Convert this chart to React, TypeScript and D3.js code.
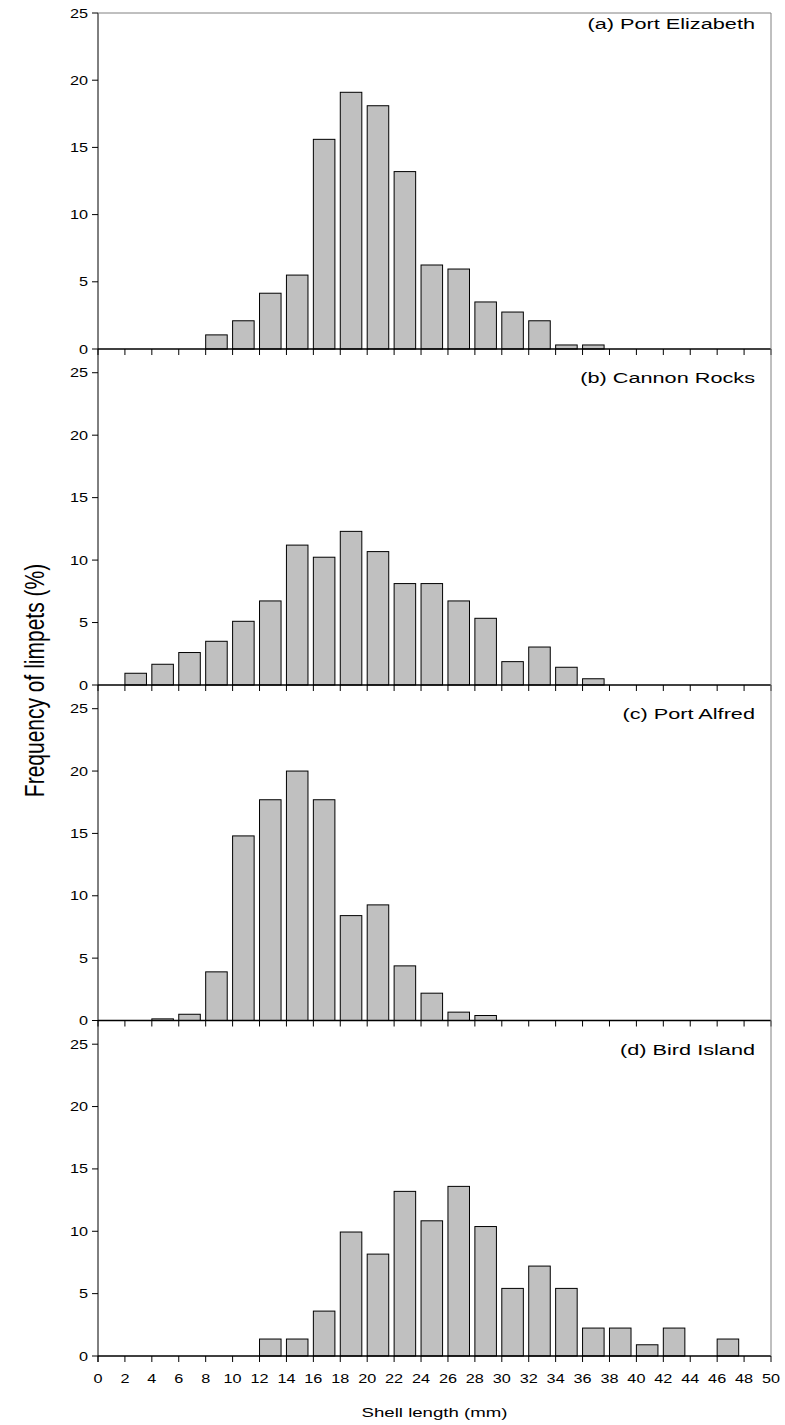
import React from "react";
import * as d3 from "d3";

// Bin starts (mm), 2 mm classes
const binStarts = d3.range(0, 50, 2);
const xTickValues = d3.range(0, 51, 2);
const yTickValues = [0, 5, 10, 15, 20, 25];

const panelTitles = ["(a) Port Elizabeth", "(b) Cannon Rocks", "(c) Port Alfred", "(d) Bird Island"];

const portElizabeth = [0, 0, 0, 0, 1.05, 2.1, 4.15, 5.5, 15.6, 19.1, 18.1, 13.2, 6.25, 5.95, 3.5, 2.75, 2.1, 0.3, 0.3, 0, 0, 0, 0, 0, 0];
const cannonRocks = [0, 0.94, 1.66, 2.6, 3.5, 5.1, 6.73, 11.2, 10.23, 12.3, 10.68, 8.12, 8.12, 6.73, 5.34, 1.87, 3.04, 1.42, 0.5, 0, 0, 0, 0, 0, 0];
const portAlfred = [0, 0, 0.13, 0.5, 3.9, 14.8, 17.7, 20.0, 17.7, 8.41, 9.27, 4.38, 2.19, 0.67, 0.4, 0, 0, 0, 0, 0, 0, 0, 0, 0, 0];
const birdIsland = [0, 0, 0, 0, 0, 0, 1.36, 1.36, 3.6, 9.94, 8.17, 13.2, 10.84, 13.6, 10.38, 5.42, 7.21, 5.42, 2.24, 2.24, 0.9, 2.24, 0, 1.36, 0];

const seriesList = [portElizabeth, cannonRocks, portAlfred, birdIsland];
const yMaxes = [25, 26.9, 26.9, 26.9];

const W = 785;
const H = 1425;
const left = 98;
const right = 771;
const panelEdges = [13, 349, 685, 1020.5, 1356];

const FONT = "'Liberation Sans', Arial, Helvetica, sans-serif";

function SText({ x, y, size, sx, anchor, children }: any) {
  return (
    <text
      transform={`translate(${x},${y}) scale(${sx},1)`}
      fontSize={size}
      fontFamily={FONT}
      textAnchor={anchor}
      fill="#000"
    >
      {children}
    </text>
  );
}

export default function App() {
  const x = d3.scaleLinear().domain([0, 50]).range([left, right]);
  const binW = x(2) - x(0);

  return (
    <svg width={W} height={H} style={{ position: "absolute", left: 0, top: 0, background: "#fff" }}>
      {seriesList.map((vals, p) => {
        const top = panelEdges[p];
        const bottom = panelEdges[p + 1];
        const y = d3.scaleLinear().domain([0, yMaxes[p]]).range([bottom, top]);
        return (
          <g key={p}>
            {vals.map((v, i) =>
              v > 0 ? (
                <rect
                  key={i}
                  x={x(binStarts[i])}
                  y={y(v)}
                  width={binW * 0.8}
                  height={y(0) - y(v)}
                  fill="#c0c0c0"
                  stroke="#000"
                  strokeWidth={1}
                />
              ) : null
            )}
            {/* baseline */}
            <line x1={left} x2={right} y1={y(0)} y2={y(0)} stroke="#000" strokeWidth={1.5} />
            {/* x ticks */}
            {xTickValues.map((t) => (
              <line key={t} x1={x(t)} x2={x(t)} y1={y(0)} y2={y(0) + 6} stroke="#000" strokeWidth={1} />
            ))}
            {/* y axis */}
            <line x1={left} x2={left} y1={top} y2={bottom + (p === 3 ? 6 : 0)} stroke="#000" strokeWidth={1} />
            {yTickValues.map((t) => (
              <g key={t}>
                <line x1={left - 6} x2={left} y1={y(t)} y2={y(t)} stroke="#000" strokeWidth={1} />
                <SText x={left - 10} y={y(t) + 4.5} size={12.5} sx={1.3} anchor="end">
                  {t}
                </SText>
              </g>
            ))}
            <SText x={755} y={p === 0 ? 29 : top + 34} size={15.5} sx={1.4} anchor="end">
              {panelTitles[p]}
            </SText>
          </g>
        );
      })}
      {/* frame: top and right */}
      <line x1={left} x2={right} y1={panelEdges[0]} y2={panelEdges[0]} stroke="#808080" strokeWidth={1} />
      <line x1={right} x2={right} y1={panelEdges[0]} y2={panelEdges[4]} stroke="#808080" strokeWidth={1} />
      {/* x tick labels (bottom panel) */}
      {xTickValues.map((t) => (
        <SText key={t} x={x(t)} y={1383} size={12.5} sx={1.3} anchor="middle">
          {t}
        </SText>
      ))}
      <SText x={(left + right) / 2} y={1417} size={13.5} sx={1.38} anchor="middle">
        Shell length (mm)
      </SText>
      <g transform={`translate(44,${(panelEdges[0] + panelEdges[4]) / 2 - 4}) rotate(-90) scale(1,1.35)`}>
        <text fontSize={21} fontFamily={FONT} textAnchor="middle" fill="#000">
          Frequency of limpets (%)
        </text>
      </g>
    </svg>
  );
}
